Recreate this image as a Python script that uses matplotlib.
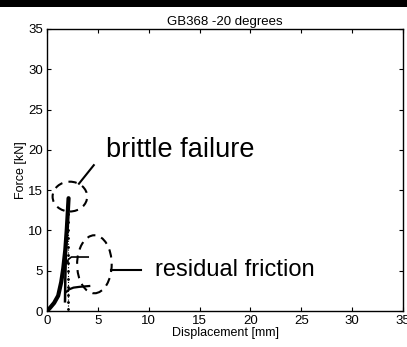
import matplotlib
matplotlib.use("Agg")
import matplotlib.pyplot as plt
from matplotlib.patches import Ellipse, Rectangle

plt.rcParams['font.family'] = ['Liberation Sans', 'DejaVu Sans']

# Data
load_x = [0, 0.3, 0.7, 1.1, 1.4, 1.6, 1.8, 1.95, 2.05, 2.12]
load_y = [0, 0.4, 1.0, 1.9, 3.6, 5.3, 7.6, 10.2, 12.4, 14.0]
drop_x = [2.12, 1.9, 1.8, 1.77]
drop_y = [14.0, 9.0, 4.0, 1.2]
scatter_x = [2.1, 2.1, 2.1, 2.1, 2.1, 2.1, 2.1, 2.1, 2.1, 2.1, 2.1, 2.1, 2.1]
scatter_y = [0.2, 1.1, 2.0, 3.0, 4.0, 5.0, 6.0, 7.0, 8.0, 9.0, 10.0, 11.0, 12.0]
upper_x = [1.93, 2.1, 2.4, 3.0, 4.05]
upper_y = [5.9, 6.4, 6.7, 6.7, 6.7]
lower_x = [1.93, 2.2, 2.6, 3.2, 4.15]
lower_y = [2.4, 2.7, 2.9, 3.0, 3.1]

xticks = [0, 5, 10, 15, 20, 25, 30, 35]
yticks = [0, 5, 10, 15, 20, 25, 30, 35]

fig = plt.figure(figsize=(4.07, 3.47), dpi=100)
fig.patches.append(Rectangle((0, 1 - 7/347), 1, 7/347, transform=fig.transFigure,
                             facecolor='black', edgecolor='none', zorder=10))
ax = fig.add_axes([47/407, 36/347, 356/407, 282/347])

ax.plot(load_x, load_y, color='black', lw=3.0, solid_capstyle='round')
ax.plot(drop_x, drop_y, color='black', lw=1.8)
ax.plot(scatter_x, scatter_y, color='black', lw=0.8, ls=':', marker='.', ms=2)
ax.plot(upper_x, upper_y, color='black', lw=1.2)
ax.plot(lower_x, lower_y, color='black', lw=1.6)

ax.add_patch(Ellipse((2.25, 14.2), 3.4, 3.7, fill=False, ls=(0, (4, 3)), lw=1.5, ec='black'))
ax.add_patch(Ellipse((4.66, 5.8), 3.4, 7.2, fill=False, ls=(0, (4, 3)), lw=1.5, ec='black'))
ax.plot([3.14, 4.6], [15.8, 18.1], color='black', lw=1.5)
ax.plot([6.34, 9.2], [5.1, 5.1], color='black', lw=1.5)

ax.text(5.8, 20.0, 'brittle failure', fontsize=19.5, va='center', ha='left')
ax.text(10.6, 5.1, 'residual friction', fontsize=17, va='center', ha='left')

ax.set_xlim(0, 35)
ax.set_ylim(0, 35)
ax.set_xticks(xticks)
ax.set_yticks(yticks)
ax.tick_params(direction='in', top=True, right=True, labelsize=9.5, length=3, pad=3)
for s in ax.spines.values():
    s.set_linewidth(1.0)
ax.set_xlabel('Displacement [mm]', fontsize=9, labelpad=0)
ax.set_ylabel('Force [kN]', fontsize=9, labelpad=1)
ax.set_title('GB368 -20 degrees', fontsize=9.5, pad=3)

fig.savefig('out.png', dpi=100)
